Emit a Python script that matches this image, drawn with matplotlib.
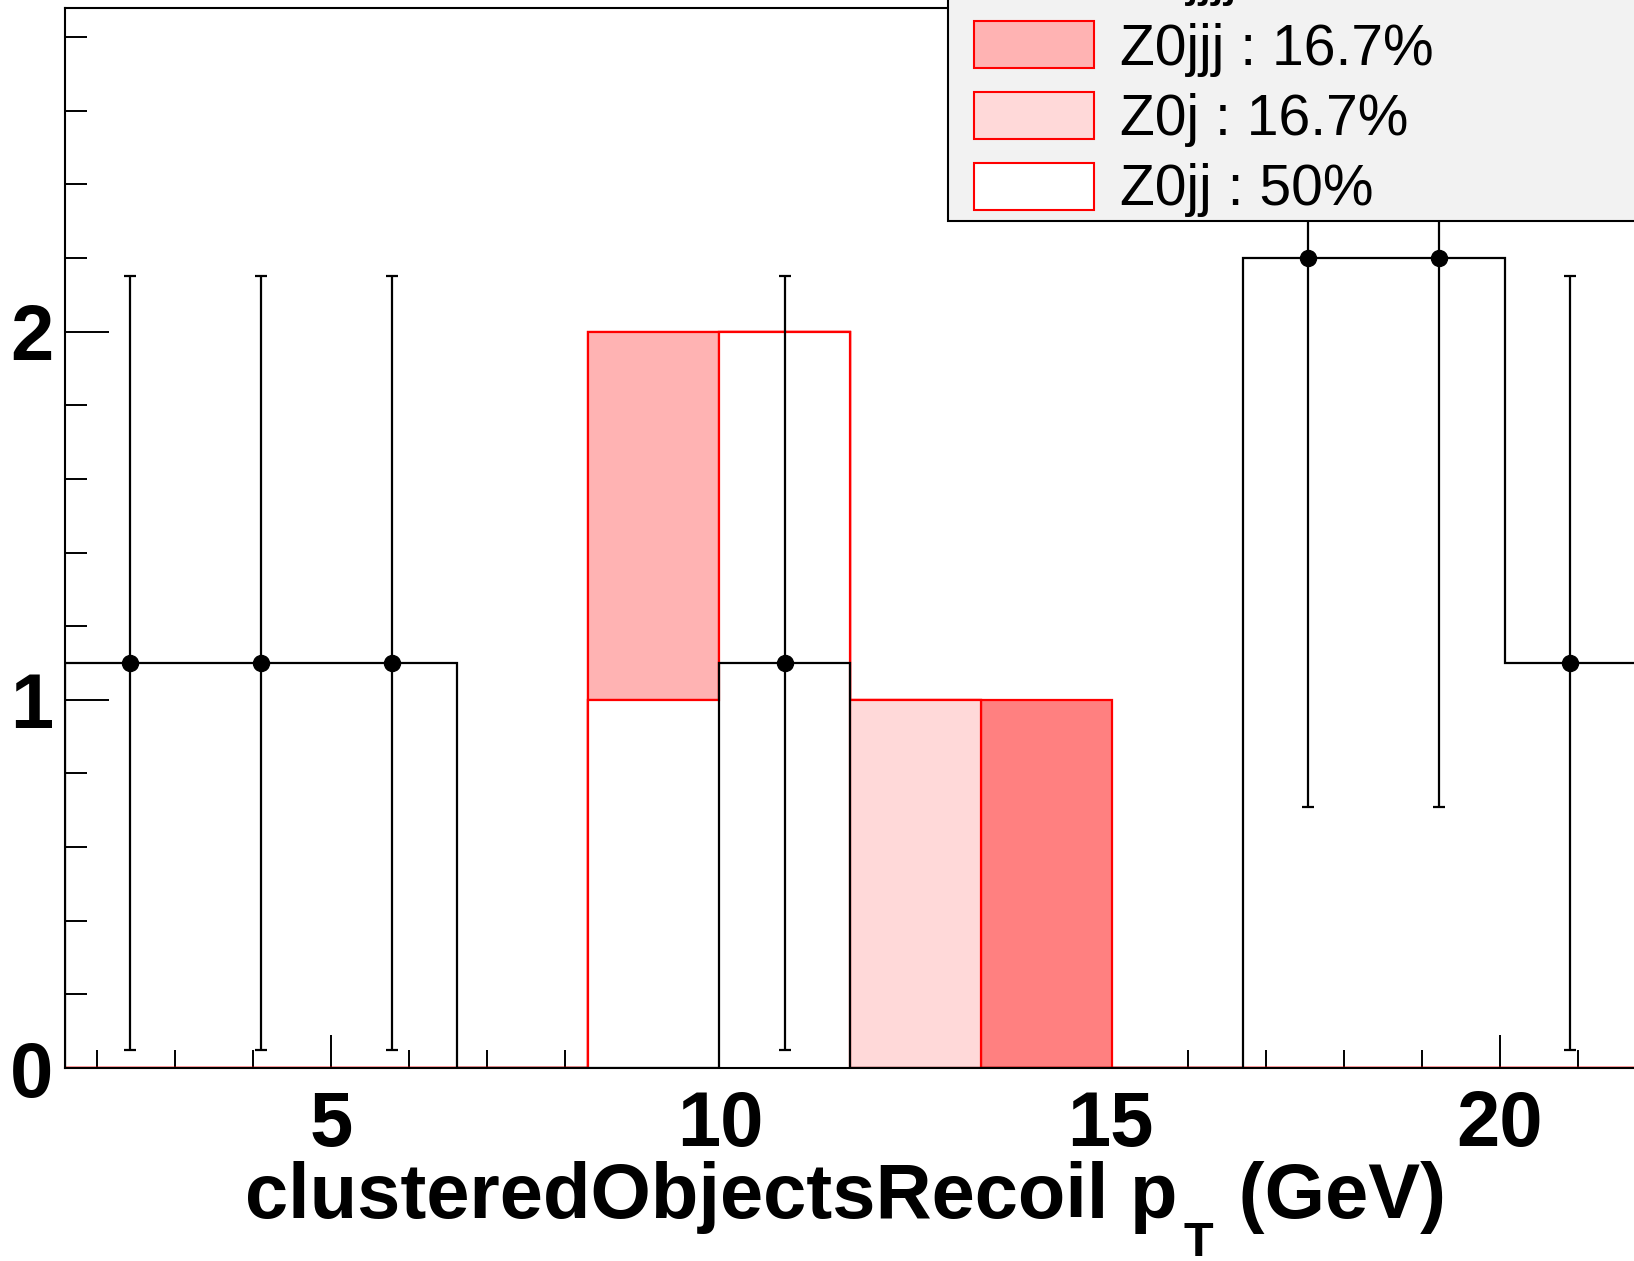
import matplotlib
matplotlib.use("Agg")
import matplotlib.pyplot as plt
from matplotlib.patches import Rectangle
import numpy as np

# histogram binning (GeV)
bin_edges = [1.58, 3.26, 4.94, 6.62, 8.30, 9.98, 11.66, 13.34, 15.02, 16.70, 18.38, 20.06, 21.74]

# data (black points)
data_values = [1.1, 1.1, 1.1, 0, 0, 1.1, 0, 0, 0, 2.2, 2.2, 1.1]
data_err_low = [1.05, 1.05, 1.05, 0, 0, 1.05, 0, 0, 0, 1.49, 1.49, 1.05]
data_err_high = [1.05, 1.05, 1.05, 0, 0, 1.05, 0, 0, 0, 1.49, 1.49, 1.05]

# stacked MC components, bottom to top
stack_names = ["Z0jj", "Z0j", "Z0jjj", "Z0jjjj"]
stack_values = [
    [0, 0, 0, 0, 1, 2, 0, 0, 0, 0, 0, 0],
    [0, 0, 0, 0, 0, 0, 1, 0, 0, 0, 0, 0],
    [0, 0, 0, 0, 1, 0, 0, 0, 0, 0, 0, 0],
    [0, 0, 0, 0, 0, 0, 0, 1, 0, 0, 0, 0],
]
stack_fractions = ["50%", "16.7%", "16.7%", "16.7%"]
stack_colors = ["#ffffff", "#ffd9d9", "#ffb3b3", "#ff8080"]

W, H = 1634, 1261


def px_x(x):
    return x / W


def px_y(y):
    # y measured from the top of the picture
    return 1 - y / H


def plot_recoil(output_path: str) -> None:
    plt.rcParams["font.family"] = ["Liberation Sans", "DejaVu Sans"]

    fig = plt.figure(figsize=(W / 100, H / 100), dpi=100)
    left, right, top, bottom = 64.6, W, 8.3, 1068
    ax = fig.add_axes([px_x(left), px_y(bottom), px_x(right - left), (bottom - top) / H])

    # stack: draw cumulative sums from the top one down
    cumulative = np.cumsum(np.array(stack_values, dtype=float), axis=0)
    for k in range(len(stack_names) - 1, -1, -1):
        ax.stairs(cumulative[k], bin_edges, fill=True, facecolor=stack_colors[k],
                  edgecolor="red", linewidth=1.6, baseline=0, zorder=2 + (3 - k) * 0.1)

    # data histogram outline + points
    ax.stairs(data_values, bin_edges, color="black", linewidth=1.6, zorder=3)
    centers = [(bin_edges[i] + bin_edges[i + 1]) / 2 for i in range(len(data_values))]
    idx = [i for i, v in enumerate(data_values) if v > 0]
    ax.errorbar([centers[i] for i in idx], [data_values[i] for i in idx],
                yerr=[[data_err_low[i] for i in idx], [data_err_high[i] for i in idx]],
                fmt="o", color="black", ms=11.5, elinewidth=1.6, capsize=4, capthick=1.6, zorder=4)

    ax.set_xlim(1.58, 21.72)
    ax.set_ylim(0, 2.878)
    ax.set_xticks([5, 10, 15, 20])
    ax.set_xticks(np.arange(2, 22, 1), minor=True)
    ax.set_yticks([0, 1, 2])
    ax.set_yticks(np.arange(0.2, 2.9, 0.2), minor=True)
    ax.tick_params(axis="both", which="both", direction="in", width=1.4, colors="black")
    ax.tick_params(axis="x", which="major", length=24, pad=15, labelsize=56)
    ax.tick_params(axis="x", which="minor", length=13)
    ax.tick_params(axis="y", which="major", length=32, pad=8, labelsize=56)
    ax.tick_params(axis="y", which="minor", length=16)
    for lab in ax.get_xticklabels() + ax.get_yticklabels():
        lab.set_fontweight("bold")
    ax.spines["right"].set_visible(False)
    for s in ["left", "bottom", "top"]:
        ax.spines[s].set_linewidth(1.5)

    # x title, ROOT style with a dropped subscript T
    base_y = px_y(1218)
    t1 = fig.text(px_x(245), base_y, "clusteredObjectsRecoil p", fontsize=56,
                  fontweight="bold", ha="left", va="baseline")
    sub = ax.annotate("T", xy=(1, base_y), xycoords=(t1, "figure fraction"),
                      xytext=(6, -3), textcoords="offset pixels",
                      fontsize=35, fontweight="bold", ha="left", va="top", annotation_clip=False)
    ax.annotate(" (GeV)", xy=(1, base_y), xycoords=(sub, "figure fraction"),
                xytext=(4, 0), textcoords="offset pixels",
                fontsize=56, fontweight="bold", ha="left", va="baseline", annotation_clip=False)

    # legend box (top and right are cut off in the original)
    fig.add_artist(Rectangle((px_x(948), px_y(221)), px_x(800), 300 / H,
                             transform=fig.transFigure, facecolor="#f2f2f2",
                             edgecolor="black", linewidth=1.5, zorder=5))
    row_tops = [163, 92, 21, -49]
    row_baselines = [205, 135, 64.6, -5.7]
    for k, name in enumerate(stack_names):
        y_top = row_tops[k]
        fig.add_artist(Rectangle((px_x(974), px_y(y_top + 47)), px_x(120), 47 / H,
                                 transform=fig.transFigure, facecolor=stack_colors[k],
                                 edgecolor="red", linewidth=1.5, zorder=6))
        fig.text(px_x(1120), px_y(row_baselines[k]), f"{name} : {stack_fractions[k]}",
                 fontsize=41, va="baseline", ha="left", zorder=7)

    fig.savefig(output_path, dpi=100)
    plt.close(fig)


if __name__ == "__main__":
    plot_recoil("out.png")
